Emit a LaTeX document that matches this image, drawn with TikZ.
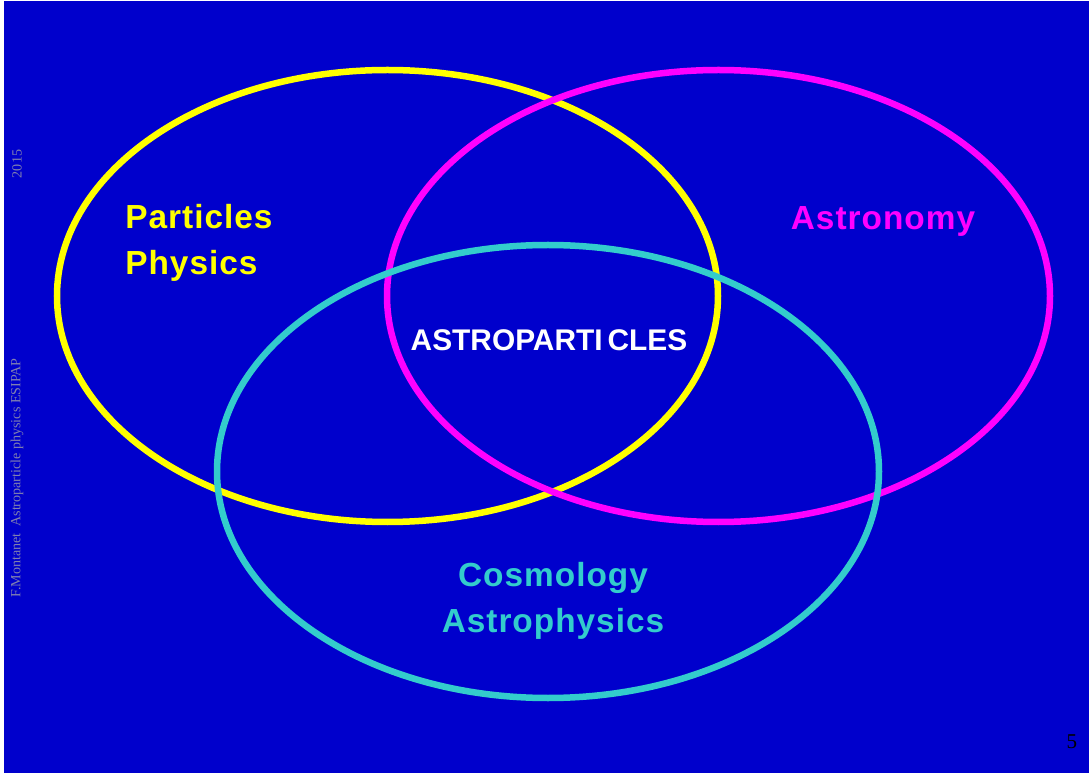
\documentclass[tikz,border=0pt]{standalone}
\usepackage{fontspec}
\setmainfont{Liberation Serif}
\newfontfamily\labelfont[LetterSpace=3]{Liberation Sans}
\newfontfamily\centrefont{Liberation Sans}
\usetikzlibrary{positioning}
\definecolor{slideblue}{RGB}{0,0,204}
\definecolor{partyellow}{RGB}{255,255,0}
\definecolor{astromagenta}{RGB}{255,0,255}
\definecolor{cosmocyan}{RGB}{51,204,204}
\definecolor{footgray}{RGB}{128,128,176}
\tikzset{field/.style={line width=3.7pt},
        fieldlabel/.style={font=\labelfont\bfseries\fontsize{19}{22}\selectfont, inner sep=0pt},
        footnote/.style={font=\fontsize{8}{9}\selectfont, text=footgray, rotate=90, inner sep=0pt},
        }

\begin{document}
\begin{tikzpicture}[x=0.02cm, y=-0.02cm]
    \useasboundingbox (0,0) rectangle (1089,773);
    \fill[white] (0,0) rectangle (1089,773);
    \fill[slideblue] (4,1) rectangle (1089,773);

    \coordinate (particles) at (387.5,296);
    \coordinate (astronomy) at (718.5,296);
    \coordinate (cosmology) at (548,471.5);

    \draw[field, partyellow] (particles) ellipse [x radius=330.5, y radius=226];
    \draw[field, astromagenta] (astronomy) ellipse [x radius=331.5, y radius=226];
    \draw[field, cosmocyan] (cosmology) ellipse [x radius=331, y radius=226.5];

    \node[fieldlabel, text=partyellow, anchor=west, align=left] (pplabel) at (125,243)
        {Particles\\[4pt]Physics};
    \node[fieldlabel, text=astromagenta] (astrolabel) at (883,221) {Astronomy};
    \node[fieldlabel, text=white, font=\centrefont\bfseries\fontsize{17}{20}\selectfont]
        (centrelabel) at (549,340) {ASTROPARTI\,CLES};
    \node[fieldlabel, text=cosmocyan, align=center] (cosmolabel) at (553,601)
        {Cosmology\\[4pt]Astrophysics};

    %footer
    \node[footnote] (author) at (17,478) {F.Montanet\ \ Astroparticle physics ESIPAP};
    \node[footnote] (year) at (17,164) {2015};
    \node[font=\fontsize{12}{14}\selectfont, inner sep=0pt] (pagenum) at (1072,742) {5};
\end{tikzpicture}
\end{document}
